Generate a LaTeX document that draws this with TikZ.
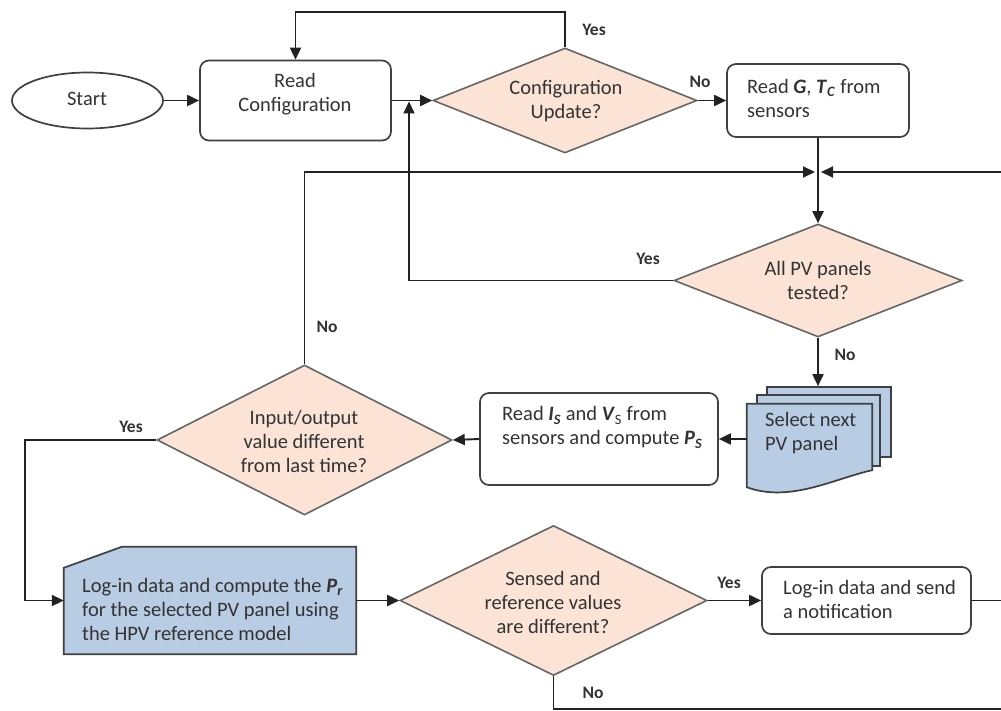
\documentclass[tikz,border=0pt]{standalone}
\usepackage{fontspec}
\setmainfont{Carlito}
\usetikzlibrary{arrows.meta,shapes.geometric,calc}
\definecolor{ink}{HTML}{333333}
\definecolor{wire}{HTML}{222222}
\definecolor{edge}{HTML}{404040}
\definecolor{decedge}{HTML}{666666}
\definecolor{peach}{HTML}{FBE4D5}
\definecolor{paper}{HTML}{B8CCE4}
\newcommand\bfit[1]{\textbf{\textit{#1}}}
\begin{document}
\begin{tikzpicture}[x=1pt,y=-1pt,
  txt/.style={inner sep=0,text=ink,font=\fontsize{20.5}{24}\selectfont},
  lab/.style={inner sep=0,text=ink,font=\fontsize{17.5}{20}\selectfont\bfseries},
  proc/.style={rectangle,draw=edge,line width=1.7,rounded corners=9,fill=white,inner sep=0},
  dec/.style={diamond,draw=decedge,fill=peach,line width=1.6,inner sep=0},
  term/.style={ellipse,draw=edge,line width=1.7,fill=white,inner sep=0},
  conn/.style={draw=wire,line width=1.9},
  arr/.style={conn,-{Triangle[length=12pt,width=11pt]}},
  page/.style={draw=edge,line width=1.7,fill=paper},
  blank/.style={rectangle,inner sep=0}
]
\useasboundingbox (0,0) rectangle (1001,711);
\fill[white] (0,0) rectangle (1001,711);
\clip (0,0) rectangle (1001,711);

% ---- shapes ----
\node[term,minimum width=151,minimum height=56] (start) at (87.5,100.5) {};
\node[txt] (tstart) at (87,99) {Start};

\node[proc,minimum width=191,minimum height=80] (readcfg) at (295.5,100.5) {};
\node[txt,align=center] (treadcfg) at (295,94) {Read\\Configuration};

\node[dec,minimum width=264,minimum height=105] (cfgupd) at (565,100.5) {};
\node[txt,align=center] (tcfgupd) at (566,101) {Configuration\\Update?};

\node[proc,minimum width=182,minimum height=73] (readg) at (818,100.5) {};
\node[txt,anchor=west,align=left] (treadg) at (747,98.5)
  {Read \bfit{G}, \bfit{T}\textsubscript{\bfit{C}} from\\sensors};

\coordinate (merge) at (818,172);
\coordinate (cfgjoin) at (409,100.5);
\coordinate (looptop) at (295.5,12);

\node[dec,minimum width=288,minimum height=113] (allpv) at (818,280.5) {};
\node[txt,align=center] (tallpv) at (818,280.5) {All PV panels\\tested?};

% stacked documents
\node[page,blank,minimum width=124,minimum height=70] (selback) at (829,422) {};
\node[page,blank,minimum width=123,minimum height=71] (selmid) at (818.5,430.5) {};
\node[blank,minimum width=125,minimum height=83] (selfront) at (809.5,445.5) {};
\draw[page] (selfront.south west) -- (selfront.north west) -- (selfront.north east)
  -- ($(selfront.south east)+(0,-17)$)
  .. controls ($(selfront.south east)+(-37,-9)$) and ($(selfront.south west)+(43,16)$) .. (selfront.south west)
  -- cycle;
\node[txt,anchor=west,align=left] (tsel) at (765,433.5) {Select next\\PV panel};

\node[proc,minimum width=238,minimum height=92] (readis) at (599,439) {};
\node[txt,anchor=west,align=left] (treadis) at (502,427.5)
  {Read \bfit{I}\textsubscript{\bfit{S}} and \bfit{V}\textsubscript{S} from\\sensors and compute \bfit{P}\textsubscript{\bfit{S}}};

\node[dec,minimum width=295,minimum height=150] (inout) at (304.5,440) {};
\node[txt,align=center] (tinout) at (304,441) {Input/output\\value different\\from last time?};

\node[blank,minimum width=292,minimum height=107] (logc) at (210,600.5) {};
\draw[page] ($(logc.north west)+(0,21)$) -- ($(logc.north west)+(58,0)$)
  -- (logc.north east) -- (logc.south east) -- (logc.south west) -- cycle;
\node[txt,anchor=west,align=left] (tlogc) at (82,609)
  {Log-in data and compute the \bfit{P}\textsubscript{\bfit{r}}\\for the selected PV panel using\\the HPV reference model};

\node[dec,minimum width=307,minimum height=150] (sensed) at (553.5,600.5) {};
\node[txt,align=center] (tsensed) at (553,602) {Sensed and\\reference values\\are different?};

\node[proc,minimum width=209,minimum height=67] (lognote) at (866.5,600.5) {};
\node[txt,anchor=west,align=left] (tlognote) at (783,599.5) {Log-in data and send\\a notification};

\coordinate (yesturn) at (25,440);
\coordinate (rightrun) at (1012,600.5);
\coordinate (bottomrun) at (1012,709);

% ---- connectors ----
\draw[arr] (start.east) -- (readcfg.west);
\draw[arr] (readcfg.east) -- (cfgupd.west);
\draw[arr] (cfgupd.north) |- (looptop) -- (readcfg.north);
\draw[arr] (cfgupd.east) -- (readg.west);
\draw[arr] (readg.south) -- (allpv.north);
\draw[arr,shorten >=3] (inout.north) |- (merge);
\draw[arr,shorten >=3] (lognote.east) -- (rightrun) |- (merge);
\draw[arr,shorten >=1] (allpv.west) -| (cfgjoin);
\draw[arr] (allpv.south) -- (allpv.south |- selback.north);
\draw[arr] (selfront.west |- readis.east) -- (readis.east);
\draw[arr] (readis.west) -- (inout.east);
\draw[arr] (inout.west) -- (yesturn) |- (logc.west);
\draw[arr] (logc.east) -- (sensed.west);
\draw[arr] (sensed.east) -- (lognote.west);
\draw[conn] (sensed.south) |- (bottomrun) -- (rightrun);

% ---- branch labels ----
\node[lab] (lyes1) at (594,30) {Yes};
\node[lab] (lno1) at (700,82) {No};
\node[lab] (lyes2) at (648,259) {Yes};
\node[lab] (lno2) at (845,355) {No};
\node[lab] (lno3) at (327,327) {No};
\node[lab] (lyes3) at (131,427) {Yes};
\node[lab] (lyes4) at (729,583) {Yes};
\node[lab] (lno4) at (593,693) {No};
\end{tikzpicture}
\end{document}
